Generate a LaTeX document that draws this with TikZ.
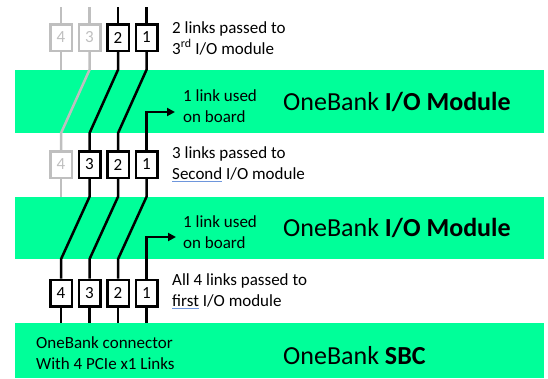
\documentclass[tikz,border=0pt]{standalone}
\usepackage{fontspec}
\setmainfont{Carlito}
\usepackage{xcolor}
\usetikzlibrary{arrows.meta}
\definecolor{bandgreen}{RGB}{0,255,153}
\definecolor{ulblue}{RGB}{110,150,220}
\newcommand{\spellul}[1]{{\color{ulblue}\underline{\color{black}#1}}}

\begin{document}
\begin{tikzpicture}[x=1pt,y=-1pt,
  band/.style={fill=bandgreen, inner sep=0pt, minimum width=529pt},
  lane/.style={draw, line width=2.5pt, minimum width=21.5pt, minimum height=26.5pt, inner sep=0pt, font=\fontsize{17}{20}\selectfont},
  link/.style={line width=2.5pt},
  deadlink/.style={link, gray!50},
  onboard/.style={link, -{Triangle[length=8pt,width=8pt]}},
  note/.style={anchor=west, inner sep=0pt, align=left, font=\fontsize{17}{21}\selectfont},
  title/.style={anchor=west, inner sep=0pt, font=\fontsize{26}{30}\selectfont}]
\useasboundingbox (0,0) rectangle (548,378);
% module bands
\node[band, minimum height=63pt] (mod1) at (279.5,101.5) {};
\node[band, minimum height=62pt] (mod2) at (279.5,228) {};
\node[band, minimum height=55pt] (sbc) at (279.5,350.5) {};
% link boxes
\node[lane, gray!50] (a4) at (61,37.5) {4};
\node[lane, gray!50] (a3) at (89.5,37.5) {3};
\node[lane] (a2) at (118,37.5) {2};
\node[lane] (a1) at (146.5,37.5) {1};
\node[lane, gray!50] (b4) at (61,164.5) {4};
\node[lane] (b3) at (89.5,164.5) {3};
\node[lane] (b2) at (118,164.5) {2};
\node[lane] (b1) at (146.5,164.5) {1};
\node[lane] (c4) at (61,293) {4};
\node[lane] (c3) at (89.5,293) {3};
\node[lane] (c2) at (118,293) {2};
\node[lane] (c1) at (146.5,293) {1};
\coordinate (top4) at (61,7);
\coordinate (top3) at (89.5,7);
\coordinate (top2) at (118,7);
\coordinate (top1) at (146.5,7);
\coordinate (on1) at (175,112);
\coordinate (on2) at (176,237);
% links
\draw[deadlink] (top4) -- (a4);
\draw[deadlink] (top3) -- (a3);
\draw[link] (top2) -- (a2);
\draw[link] (top1) -- (a1);
\draw[deadlink] (a4) -- (a4 |- mod1.north);
\draw[deadlink] (a3) -- (a3 |- mod1.north) -- (b4 |- mod1.south) -- (b4);
\draw[link] (a2) -- (a2 |- mod1.north) -- (b3 |- mod1.south) -- (b3);
\draw[link] (a1) -- (a1 |- mod1.north) -- (b2 |- mod1.south) -- (b2);
\draw[onboard] (b1) |- (on1);
\draw[deadlink] (b4) -- (b4 |- mod2.north);
\draw[link] (b3) -- (b3 |- mod2.north) -- (c4 |- mod2.south) -- (c4);
\draw[link] (b2) -- (b2 |- mod2.north) -- (c3 |- mod2.south) -- (c3);
\draw[link] (b1) -- (b1 |- mod2.north) -- (c2 |- mod2.south) -- (c2);
\draw[onboard] (c1) |- (on2);
\draw[link] (c4) -- (c4 |- sbc.north);
\draw[link] (c3) -- (c3 |- sbc.north);
\draw[link] (c2) -- (c2 |- sbc.north);
\draw[link] (c1) -- (c1 |- sbc.north);
% texts
\node[note] (pass2) at (172,38) {2 links passed to\\3\textsuperscript{rd} I/O module};
\node[note] (use1) at (183,106.5) {1 link used\\on board};
\node[title] (io1) at (283,102) {OneBank \textbf{I/O Module}};
\node[note] (pass3) at (172,164.5) {3 links passed to\\\spellul{Second} I/O module};
\node[note] (use2) at (183,232.5) {1 link used\\on board};
\node[title] (io2) at (283,228) {OneBank \textbf{I/O Module}};
\node[note] (pass4) at (172,291) {All 4 links passed to\\\spellul{first} I/O module};
\node[note] (conn) at (36,353.5) {OneBank connector\\With 4 PCIe x1 Links};
\node[title] (sbcname) at (283,356) {OneBank \textbf{SBC}};
\end{tikzpicture}
\end{document}
